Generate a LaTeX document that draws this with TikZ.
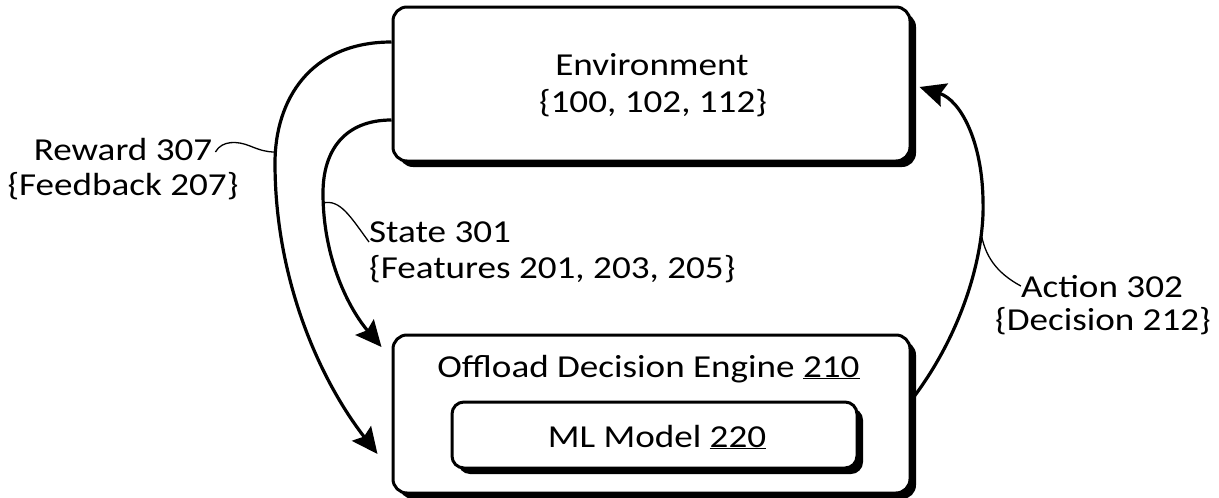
\documentclass[tikz,border=0pt]{standalone}
\usepackage{fontspec}
\setmainfont{Carlito}[FakeStretch=1.16]
\usetikzlibrary{arrows.meta,shadows}
\begin{document}
\begin{tikzpicture}[x=1pt,y=-1pt,
  box/.style={draw=black, line width=3pt, fill=white,
    drop shadow={shadow xshift=6pt, shadow yshift=-6pt, fill=black, opacity=1},
    inner sep=0pt},
  txt/.style={font=\fontsize{32}{37}\selectfont, inner sep=0pt, text=black},
  flow/.style={line width=3.2pt, -{Stealth[length=26pt, width=24pt, inset=4pt]}},
  lead/.style={line width=1.3pt}]
\useasboundingbox (0,0) rectangle (1219,498);

% boxes
\node[box, rounded corners=14pt, minimum width=517pt, minimum height=154pt] (env) at (651.5,84) {};
\node[box, rounded corners=14pt, minimum width=517pt, minimum height=158pt] (ode) at (651.5,414) {};
\node[box, rounded corners=12pt, minimum width=405pt, minimum height=66pt] (ml) at (654.5,435) {};

% box texts
\node[txt, anchor=base] (envname) at (652,75) {Environment};
\node[txt, anchor=base] (envids) at (653,112) {\{100, 102, 112\}};
\node[txt, anchor=base] (odename) at (648.5,377) {Offload Decision Engine \underline{210}};
\node[txt, anchor=base] (mlname) at (657,447) {ML Model \underline{220}};

% labels of the flows
\node[txt, anchor=base] (rew1) at (123,160) {Reward 307};
\node[txt, anchor=base] (rew2) at (123,195) {\{Feedback 207\}};
\node[txt, anchor=base west] (st1) at (369,242) {State 301};
\node[txt, anchor=base west] (st2) at (369,278) {\{Features 201, 203, 205\}};
\node[txt, anchor=base] (act1) at (1102,297) {Action 302};
\node[txt, anchor=base] (act2) at (1103,330) {\{Decision 212\}};

% attachment points on the box sides
\coordinate (rewS) at ([yshift=42pt]env.west);
\coordinate (stS) at ([yshift=-36pt]env.west);
\coordinate (rewE) at ([xshift=-14pt,yshift=-40pt]ode.west);
\coordinate (stE) at ([xshift=-10pt,yshift=67pt]ode.west);
\coordinate (actS) at ([yshift=14pt]ode.east);
\coordinate (actE) at ([xshift=8pt,yshift=-3pt]env.east);

% flows
\draw[flow] (rewS) .. controls (310,42) and (275,100) .. (275,163)
  .. controls (275,280) and (320,380) .. (rewE);
\draw[flow] (stS) .. controls (345,120) and (323,150) .. (323,193)
  .. controls (323,260) and (350,310) .. (stE);
\draw[flow] (actS) .. controls (965,330) and (985,250) .. (983,200)
  .. controls (982,140) and (960,100) .. (actE);

% leader lines
\coordinate (rewL) at (275,152);
\coordinate (stL) at (323,203);
\coordinate (actL) at (981,233);
\draw[lead] (rew1.base east) ++(3,-8) .. controls (222,140) and (238,141) .. (250,146)
  .. controls (260,150) and (266,152) .. (rewL);
\draw[lead] (stL) .. controls (340,199) and (350,216) .. (st1.base west);
\draw[lead] (actL) .. controls (985,255) and (995,272) .. (act1.west);
\end{tikzpicture}
\end{document}
